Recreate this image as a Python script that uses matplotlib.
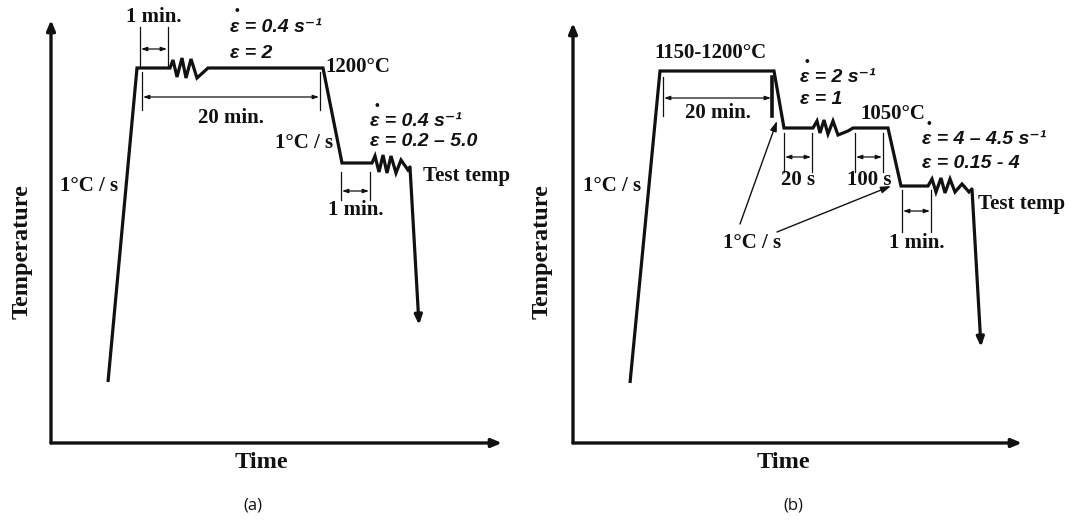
import matplotlib
matplotlib.use("Agg")
import matplotlib.pyplot as plt

# canvas units are pixels, y measured downward from the top edge
W, H = 1076, 523

# ---------------- panel (a) ----------------
a_axis_x = [51, 51, 502]
a_axis_y = [20, 443, 443]

a_profile_x = [108, 137, 170, 173, 177, 182, 186, 191, 197, 208, 323, 342,
               372, 375, 379, 383, 387, 391, 396, 401, 408, 410]
a_profile_y = [382, 68, 68, 60, 77, 58, 78, 59, 78, 68, 68, 163,
               163, 156, 172, 155, 173, 156, 173, 160, 170, 167]
a_drop_end = (419, 325)

# ---------------- panel (b) ----------------
b_axis_x = [573, 573, 1022]
b_axis_y = [23, 443, 443]

b_profile_x = [630, 660, 774, 784, 813, 817, 820, 824, 828, 833, 838, 848,
               853, 888, 901, 928, 932, 936, 941, 945, 950, 955, 962, 969, 972]
b_profile_y = [383, 71, 71, 128, 128, 121, 133, 120, 134, 121, 135, 131,
               128, 128, 186, 186, 179, 192, 178, 193, 179, 192, 184, 192, 189]
b_drop_end = (981, 347)

# dimension marks: (x_left, x_right, y_top, y_bottom, y_arrow, label, label_y)
a_dims = [(140, 168, 27, 66, 49, "1 min.", 17),
          (142, 320, 72, 110, 97, "20 min.", 118),
          (341, 370, 172, 200, 191, "1 min.", 210)]
b_dims = [(663, 772, 77, 116, 98, "20 min.", 113),
          (784, 812, 133, 172, 157, "20 s", 180),
          (855, 883, 133, 172, 157, "100 s", 180),
          (902, 931, 190, 232, 211, "1 min.", 243)]

# serif annotations: (x, y, text, ha)
a_notes = [(325, 67, "1200\u00b0C", "left"),
           (333, 143, "1\u00b0C / s", "right"),
           (423, 176, "Test temp", "left"),
           (60, 186, "1\u00b0C / s", "left")]
b_notes = [(710, 53, "1150-1200\u00b0C", "center"),
           (860, 114, "1050\u00b0C", "left"),
           (978, 204, "Test temp", "left"),
           (583, 186, "1\u00b0C / s", "left"),
           (752, 243, "1\u00b0C / s", "center")]

# strain-rate / strain pairs: (x, y_rate, y_strain, rate, strain)
a_strain = [(230, 27, 53, "0.4 s\u207b\u00b9", "2"),
            (370, 122, 142, "0.4 s\u207b\u00b9", "0.2 \u2013 5.0")]
b_strain = [(800, 78, 100, "2 s\u207b\u00b9", "1"),
            (922, 140, 163, "4 \u2013 4.5 s\u207b\u00b9", "0.15 - 4")]

# pointers from the lower "1°C / s" label to the two cooling ramps
b_pointers = [((740, 224), (777, 121)), ((777, 232), (891, 186))]

# panel letter, letter x, "Time" x, "Temperature" x
panels = [("(a)", 253, 261, 22), ("(b)", 793, 783, 542)]

INK = "#111111"
SERIF = ["Liberation Serif", "DejaVu Serif"]
SANS = ["Liberation Sans", "DejaVu Sans"]

fig = plt.figure(figsize=(W / 100, H / 100), dpi=100)
ax = fig.add_axes([0, 0, 1, 1])
ax.set_xlim(0, W)
ax.set_ylim(H, 0)
ax.axis("off")


def draw_axes(xs, ys):
    style = "-|>,head_length=0.6,head_width=0.25"
    for i in (0, 2):
        ax.annotate("", xy=(xs[i], ys[i]), xytext=(xs[1], ys[1]),
                    arrowprops=dict(arrowstyle=style, lw=2.4, color=INK,
                                    shrinkA=0, shrinkB=0))


def draw_profile(px, py, end):
    ax.plot(px, py, color=INK, lw=2.3, solid_joinstyle="miter",
            solid_capstyle="butt")
    ax.annotate("", xy=end, xytext=(px[-1], py[-1]),
                arrowprops=dict(arrowstyle="-|>,head_length=0.55,head_width=0.22",
                                lw=2.3, color=INK, shrinkA=0, shrinkB=0))


def draw_dims(dims, thick_right=False):
    for x0, x1, yt, yb, ya, label, ly in dims:
        ax.plot([x0, x0], [yt, yb], color=INK, lw=0.9)
        lw_right = 2.6 if (thick_right and label == "20 min.") else 0.9
        ax.plot([x1, x1], [yt, yb], color=INK, lw=lw_right)
        ax.annotate("", xy=(x1 - 1, ya), xytext=(x0 + 1, ya),
                    arrowprops=dict(arrowstyle="<|-|>,head_length=0.35,head_width=0.12",
                                    lw=0.9, color=INK, shrinkA=0, shrinkB=0))
        ax.text((x0 + x1) / 2, ly, label, ha="center", va="center",
                fontsize=15, fontweight="bold", family=SERIF, color=INK)


def draw_notes(notes):
    for x, y, text, ha in notes:
        ax.text(x, y, text, ha=ha, va="center", fontsize=15,
                fontweight="bold", family=SERIF, color=INK)


def draw_strain(items):
    for x, yr, ys, rate, strain in items:
        ax.text(x, yr, "\u03b5 = " + rate, ha="left", va="center",
                fontsize=14, fontweight="bold", fontstyle="italic",
                family=SANS, color=INK)
        # dot over epsilon marks the strain rate
        ax.text(x + 7, yr - 16, "\u2022", ha="center", va="center",
                fontsize=10, family=SANS, color=INK)
        ax.text(x, ys, "\u03b5 = " + strain, ha="left", va="center",
                fontsize=14, fontweight="bold", fontstyle="italic",
                family=SANS, color=INK)


draw_axes(a_axis_x, a_axis_y)
draw_axes(b_axis_x, b_axis_y)
draw_profile(a_profile_x, a_profile_y, a_drop_end)
draw_profile(b_profile_x, b_profile_y, b_drop_end)
draw_dims(a_dims)
draw_dims(b_dims, thick_right=True)
draw_notes(a_notes)
draw_notes(b_notes)
draw_strain(a_strain)
draw_strain(b_strain)

for start, end in b_pointers:
    ax.annotate("", xy=end, xytext=start,
                arrowprops=dict(arrowstyle="-|>,head_length=0.6,head_width=0.2",
                                lw=1.0, color=INK, shrinkA=0, shrinkB=0))

for letter, lx, tx, yx in panels:
    ax.text(tx, 463, "Time", ha="center", va="center", fontsize=17.5,
            fontweight="bold", family=SERIF, color=INK)
    ax.text(yx, 252, "Temperature", ha="center", va="center", rotation=90,
            fontsize=17.5, fontweight="bold", family=SERIF, color=INK)
    ax.text(lx, 505, letter, ha="center", va="center", fontsize=12,
            family=["Open Sans", "DejaVu Sans"], color=INK)

fig.savefig("out.png", dpi=100)
